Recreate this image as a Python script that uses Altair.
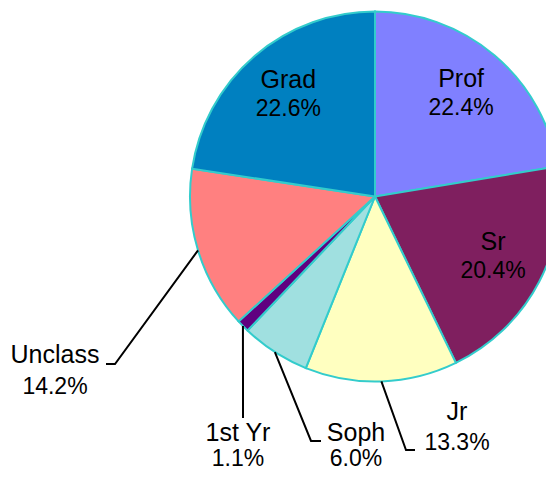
import math
import altair as alt
import pandas as pd

# ---- data ----
labels = ["Prof", "Sr", "Jr", "Soph", "1st Yr", "Unclass", "Grad"]
values = [22.4, 20.4, 13.3, 6.0, 1.1, 14.2, 22.6]
colors = ["#8080FF", "#7F1F5F", "#FFFFC0", "#A0E0E0", "#600080", "#FF8080", "#0080C0"]
inside = ["Prof", "Sr", "Grad"]

# ---- layout (page pixels) ----
CX, CY, R = 375, 196.5, 185
TOTAL_W, TOTAL_H = 538, 464
W = 2 * (TOTAL_W - (CX - 8))
H = 377
PAD_L = (CX - 8) - W / 2
PAD_T = (CY - 8) - H / 2
FONT = "Liberation Sans"
FS_NAME = 25
FS_PCT = 23
IN_R = 133
IN_DY_NAME, IN_DY_PCT = -8, 20

leader_px = {
    "Unclass": [(115, 364), (106, 364)],
    "1st Yr": [(243, 418)],
    "Soph": [(311, 441), (321, 441)],
    "Jr": [(406, 450), (415, 450)],
}
# (center x, name baseline, percent baseline)
label_px = {
    "Unclass": (55, 363, 394),
    "1st Yr": (238, 441, 466),
    "Soph": (356, 441, 466),
    "Jr": (457, 420, 450),
}


def ux(px):
    return (px - CX) / R


def uy(py):
    return (CY - py) / R


df = pd.DataFrame({
    "label": labels,
    "value": values,
    "idx": list(range(len(labels))),
})
df["name_in"] = [l if l in inside else "" for l in labels]
df["pct_in"] = [f"{v:.1f}%" if l in inside else "" for l, v in zip(labels, values)]

# leader lines: start at slice mid-angle on the rim
rows = []
cum = 0.0
mids = {}
for l, v in zip(labels, values):
    mids[l] = (cum + v / 2) / 100 * 2 * math.pi
    cum += v
for l, pts in leader_px.items():
    a = mids[l]
    rows.append({"label": l, "step": 0, "x": math.sin(a), "y": math.cos(a)})
    for i, (px, py) in enumerate(pts):
        rows.append({"label": l, "step": i + 1, "x": ux(px), "y": uy(py)})
lines_df = pd.DataFrame(rows)

out_rows = []
for l, (px, py1, py2) in label_px.items():
    v = values[labels.index(l)]
    out_rows.append({"label": l, "x": ux(px), "yn": uy(py1), "yp": uy(py2),
                     "name": l, "pct": f"{v:.1f}%"})
out_df = pd.DataFrame(out_rows)

xs = alt.Scale(domain=[-(W / 2) / R, (W / 2) / R], nice=False, zero=False)
ys = alt.Scale(domain=[-(H / 2) / R, (H / 2) / R], nice=False, zero=False)

base = alt.Chart(df)
theta = alt.Theta("value:Q", stack=True)
order = alt.Order("idx:Q")

arcs = base.mark_arc(radius=R, stroke="#33CCCC", strokeWidth=2).encode(
    theta=theta,
    order=order,
    color=alt.Color("label:N", scale=alt.Scale(domain=labels, range=colors), legend=None),
)
in_name = base.mark_text(radius=IN_R, dy=IN_DY_NAME, font=FONT, fontSize=FS_NAME,
                         align="center", baseline="alphabetic", color="black").encode(
    theta=theta, order=order, text="name_in:N")
in_pct = base.mark_text(radius=IN_R, dy=IN_DY_PCT, font=FONT, fontSize=FS_PCT,
                        align="center", baseline="alphabetic", color="black").encode(
    theta=theta, order=order, text="pct_in:N")

lines = alt.Chart(lines_df).mark_line(color="black", strokeWidth=2).encode(
    x=alt.X("x:Q", scale=xs, axis=None),
    y=alt.Y("y:Q", scale=ys, axis=None),
    detail="label:N",
    order="step:Q",
)
out_name = alt.Chart(out_df).mark_text(font=FONT, fontSize=FS_NAME, align="center",
                                       baseline="alphabetic", color="black").encode(
    x=alt.X("x:Q", scale=xs, axis=None),
    y=alt.Y("yn:Q", scale=ys, axis=None),
    text="name:N",
)
out_pct = alt.Chart(out_df).mark_text(font=FONT, fontSize=FS_PCT, align="center",
                                      baseline="alphabetic", color="black").encode(
    x=alt.X("x:Q", scale=xs, axis=None),
    y=alt.Y("yp:Q", scale=ys, axis=None),
    text="pct:N",
)

chart = alt.layer(arcs, in_name, in_pct, lines, out_name, out_pct).properties(
    width=W, height=H,
    autosize="none",
    padding={"left": PAD_L, "top": PAD_T,
             "right": TOTAL_W - PAD_L - W, "bottom": TOTAL_H - PAD_T - H},
).configure_view(stroke=None)

chart.save("out.html", embed_options={"renderer": "svg", "actions": False})
